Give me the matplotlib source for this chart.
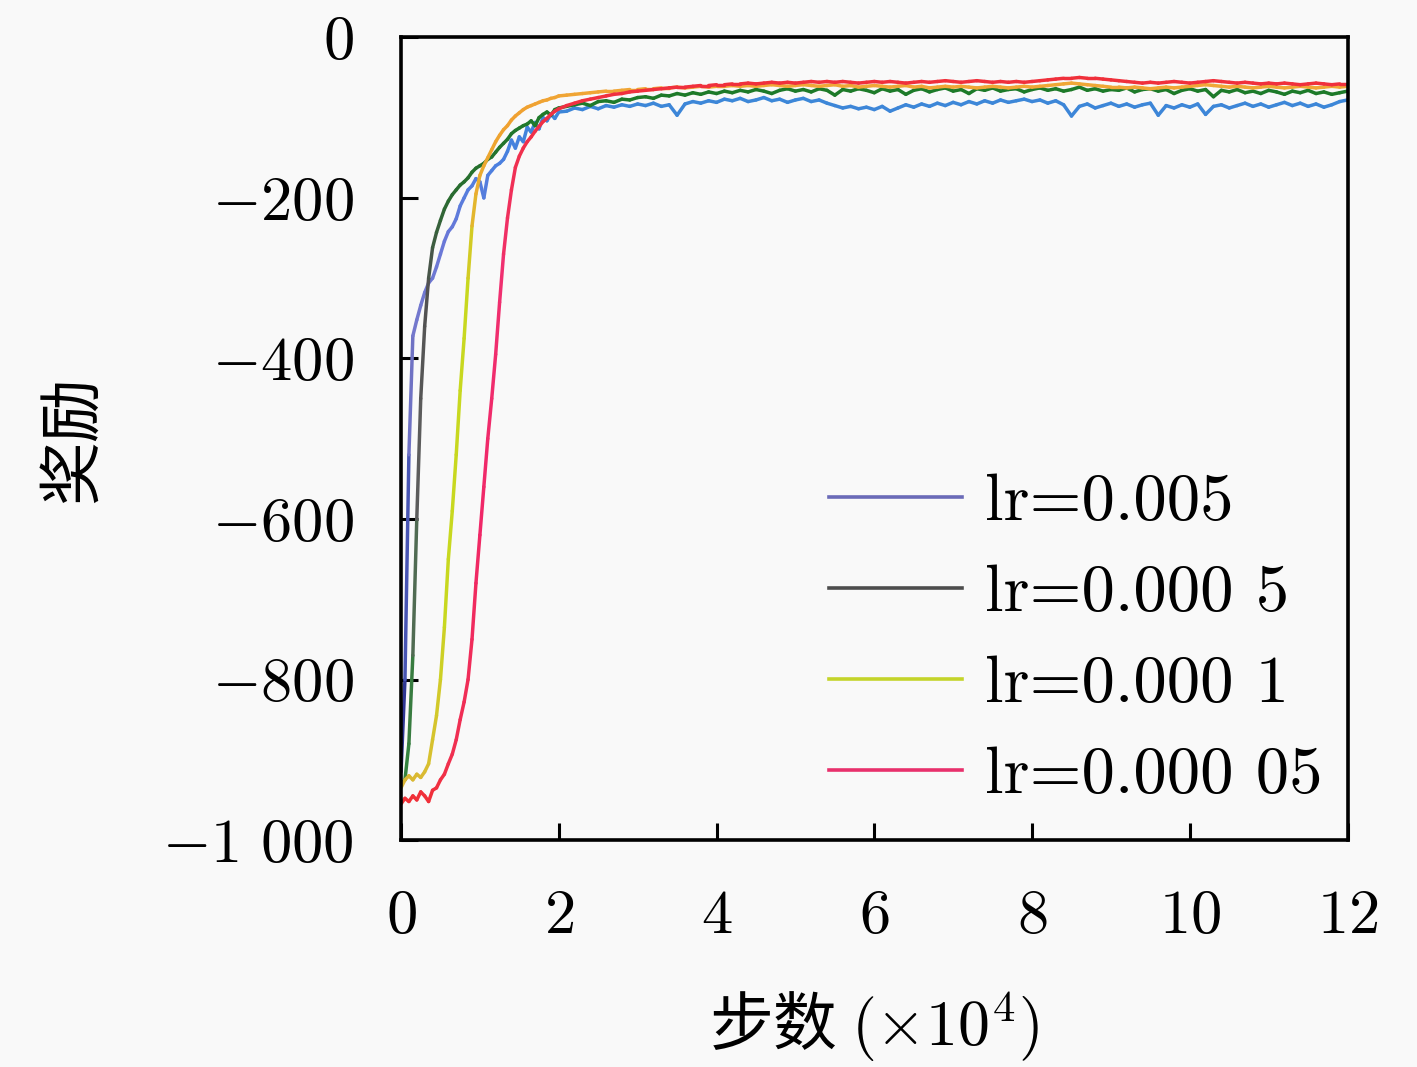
import numpy as np
import matplotlib
matplotlib.use("Agg")
import matplotlib.pyplot as plt
from matplotlib.collections import LineCollection
from matplotlib.colors import LinearSegmentedColormap, Normalize
from matplotlib.lines import Line2D

plt.rcParams['mathtext.fontset'] = 'cm'
plt.rcParams['font.family'] = ['cmr10', 'Noto Sans CJK SC', 'DejaVu Sans']
plt.rcParams['axes.unicode_minus'] = True

# ---------------- data ----------------
steps_early = np.round(np.arange(0, 2.0001, 0.05), 2)     # x10^4
steps_late = np.round(np.arange(2.1, 12.0001, 0.1), 2)
steps = np.concatenate([steps_early, steps_late])

labels = ['lr=0.005', 'lr=0.000 5', 'lr=0.000 1', 'lr=0.000 05']

r_0005_early = [-915, -800, -520, -372, -352, -334, -318, -306, -300, -286,
                -270, -254, -242, -236, -226, -210, -200, -190, -185, -176,
                -180, -200, -172, -166, -160, -157, -152, -142, -128, -138,
                -124, -130, -112, -118, -106, -114, -100, -104, -96, -101, -93]
r_0005_late = [-92, -88, -90, -86, -89, -85, -87, -84, -86, -83,
               -85, -82, -86, -84, -97, -83, -80, -82, -79, -81,
               -77, -79, -76, -80, -78, -75, -79, -77, -81, -78,
               -76, -80, -78, -82, -85, -88, -86, -89, -87, -90,
               -86, -92, -88, -84, -87, -83, -86, -82, -85, -81,
               -84, -80, -83, -79, -82, -78, -81, -79, -77, -80,
               -78, -82, -79, -84, -98, -86, -83, -88, -85, -82,
               -86, -83, -87, -84, -82, -97, -85, -88, -84, -87,
               -83, -96, -86, -84, -88, -85, -82, -86, -83, -87,
               -84, -81, -85, -82, -86, -83, -87, -84, -80, -78]

r_00005_early = [-930, -925, -880, -770, -600, -450, -360, -300, -262, -243,
                 -228, -214, -204, -196, -190, -184, -180, -175, -168, -163,
                 -160, -157, -152, -149, -143, -137, -132, -127, -120, -116,
                 -113, -110, -108, -104, -110, -100, -96, -93, -97, -90, -88]
r_00005_late = [-86, -84, -82, -85, -80, -79, -81, -77, -78, -75,
                -74, -76, -72, -73, -70, -72, -69, -71, -68, -70,
                -67, -69, -66, -68, -65, -67, -70, -66, -64, -67,
                -65, -68, -64, -66, -72, -65, -67, -64, -66, -69,
                -64, -67, -65, -71, -66, -64, -68, -65, -63, -67,
                -65, -70, -64, -66, -63, -67, -65, -64, -68, -65,
                -63, -66, -64, -67, -65, -62, -66, -64, -67, -65,
                -66, -63, -68, -65, -64, -67, -65, -70, -66, -64,
                -67, -65, -74, -66, -68, -65, -69, -67, -70, -66,
                -68, -71, -67, -69, -66, -70, -68, -71, -69, -67]

r_00001_early = [-935, -925, -920, -925, -918, -922, -915, -905, -875, -845,
                 -800, -735, -650, -590, -520, -440, -375, -300, -235, -195,
                 -172, -160, -150, -140, -130, -122, -115, -110, -103, -98,
                 -94, -90, -87, -85, -83, -81, -79, -78, -76, -75, -73]
r_00001_late = [-72, -71, -70, -69, -68, -67, -67, -66, -65, -65,
                -64, -64, -63, -63, -62, -63, -62, -61, -62, -61,
                -61, -60, -61, -60, -61, -60, -59, -60, -61, -60,
                -59, -60, -61, -60, -59, -61, -60, -62, -61, -60,
                -61, -62, -61, -60, -62, -61, -63, -62, -61, -62,
                -61, -62, -63, -62, -61, -62, -63, -62, -61, -62,
                -61, -60, -59, -58, -57, -58, -59, -60, -61, -62,
                -62, -63, -62, -63, -64, -63, -62, -63, -62, -61,
                -60, -59, -60, -61, -62, -61, -62, -63, -62, -61,
                -62, -63, -62, -61, -62, -63, -62, -61, -62, -61]

r_000005_early = [-955, -948, -952, -945, -950, -940, -945, -952, -938, -935,
                  -925, -918, -905, -893, -875, -850, -828, -800, -750, -680,
                  -620, -560, -500, -450, -395, -330, -270, -225, -190, -162,
                  -148, -138, -130, -124, -117, -111, -105, -101, -96, -92, -89]
r_000005_late = [-85, -82, -79, -77, -75, -73, -71, -70, -68, -67,
                 -66, -65, -64, -63, -62, -62, -61, -60, -60, -59,
                 -59, -58, -58, -57, -58, -57, -56, -57, -56, -57,
                 -56, -55, -56, -55, -56, -55, -56, -57, -56, -55,
                 -56, -55, -56, -57, -56, -55, -56, -55, -54, -55,
                 -56, -55, -54, -55, -56, -55, -56, -55, -56, -55,
                 -54, -53, -52, -51, -51, -50, -51, -51, -52, -53,
                 -54, -55, -56, -57, -56, -57, -56, -55, -56, -57,
                 -56, -55, -54, -55, -56, -57, -56, -57, -58, -57,
                 -58, -57, -58, -59, -58, -57, -58, -59, -58, -58]

series = [r_0005_early + r_0005_late,
          r_00005_early + r_00005_late,
          r_00001_early + r_00001_late,
          r_000005_early + r_000005_late]

# ---------------- styles ----------------
legend_colors = ['#6b6bb8', '#4d4d4d', '#c4d42a', '#e8306c']
grad_stops = [
    [(0.0, '#20207a'), (0.3, '#4050b0'), (0.6, '#7878c8'), (0.75, '#6a78d8'),
     (0.85, '#4a80e0'), (0.91, '#3d86d8'), (1.0, '#3a90d8')],
    [(0.0, '#2e8b3e'), (0.2, '#3a7a40'), (0.4, '#606060'), (0.7, '#505050'),
     (0.8, '#2a6a30'), (0.9, '#1f7a2a'), (1.0, '#1a7a28')],
    [(0.0, '#e0a040'), (0.1, '#d8c030'), (0.3, '#c8d820'), (0.7, '#c8d820'),
     (0.8, '#e8b030'), (0.9, '#f0a030'), (1.0, '#f0b040')],
    [(0.0, '#f03020'), (0.1, '#f03050'), (0.4, '#f02868'), (0.7, '#f03070'),
     (0.85, '#f03050'), (1.0, '#f03030')],
]

bg = '#f9f9f9'
fig = plt.figure(figsize=(14.17, 10.67), dpi=100, facecolor=bg)
ax = fig.add_axes([0.283, 0.2127, 0.668, 0.7523])
ax.set_facecolor(bg)

norm = Normalize(-1000, 0)
for vals, stops in zip(series, grad_stops):
    y = np.asarray(vals, dtype=float)
    pts = np.column_stack([steps, y]).reshape(-1, 1, 2)
    segs = np.concatenate([pts[:-1], pts[1:]], axis=1)
    cmap = LinearSegmentedColormap.from_list('g', stops)
    mid = 0.5 * (y[:-1] + y[1:])
    lc = LineCollection(segs, colors=cmap(norm(mid)), linewidths=2.5,
                        capstyle='round', joinstyle='round')
    ax.add_collection(lc)

ax.set_xlim(0, 12)
ax.set_ylim(-1000, 0)

xt = [0, 2, 4, 6, 8, 10, 12]
ax.set_xticks(xt)
ax.set_xticklabels([r'$%d$' % v for v in xt])
yt = [0, -200, -400, -600, -800, -1000]
ax.set_yticks(yt)
ax.set_yticklabels([r'$0$', r'$-200$', r'$-400$', r'$-600$', r'$-800$', r'$-1\ 000$'])

ax.tick_params(direction='in', length=12, width=2.2, labelsize=45,
               top=False, right=False)
ax.tick_params(axis='x', pad=36)
ax.tick_params(axis='y', pad=34)
for s in ax.spines.values():
    s.set_linewidth(2.6)

ax.set_xlabel(r'步数 $(\times10^4)$', fontsize=46, family=['Noto Sans CJK SC'], labelpad=32)
ax.set_ylabel('奖励', fontsize=46, family=['Noto Sans CJK SC'], labelpad=41)

handles = [Line2D([], [], color=c, lw=2.6) for c in legend_colors]
ax.legend(handles, labels, loc='lower right', bbox_to_anchor=(1.016, -0.008),
          frameon=False, fontsize=48, handlelength=2.0, handletextpad=0.35,
          labelspacing=0.47, borderaxespad=0.2)

fig.savefig('out.png', dpi=100, facecolor=bg)
